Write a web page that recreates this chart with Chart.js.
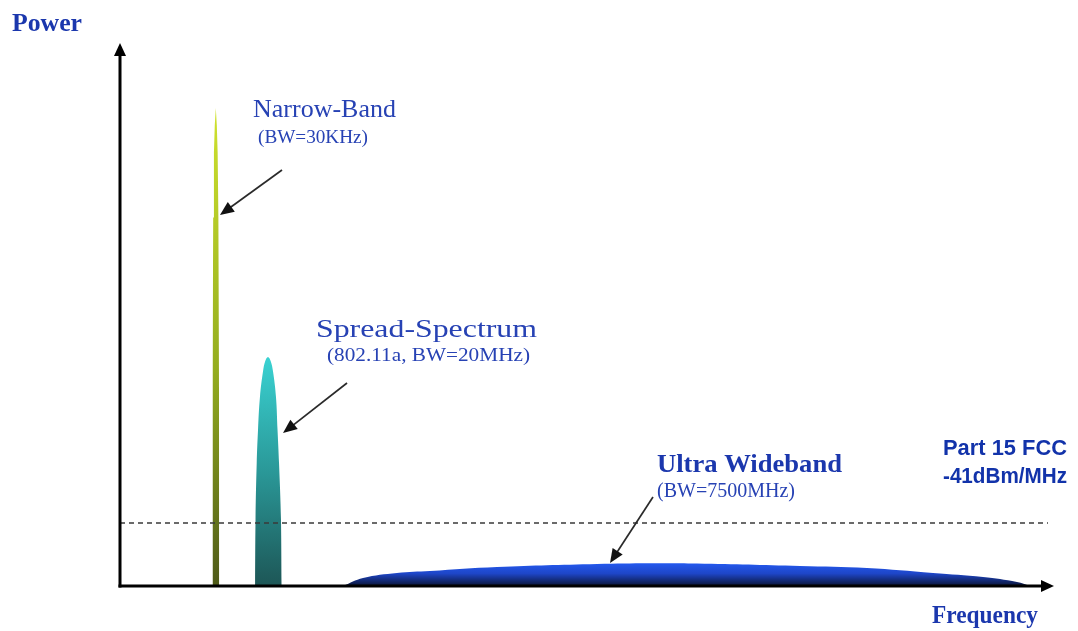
<!DOCTYPE html>
<html>
<head>
<meta charset="utf-8">
<script src="https://cdn.jsdelivr.net/npm/chart.js@4.4.1/dist/chart.umd.min.js"></script>
<style>
html,body{margin:0;padding:0;background:#fff;}
#wrap{width:1078px;height:631px;position:relative;}
</style>
</head>
<body>
<div id="wrap"><canvas id="c" width="1078" height="631"></canvas></div>
<script>
// ---- Data (arbitrary frequency units 0-100, power units 0-100) ----
const narrowFreq  = [9.93, 9.96, 10.02, 10.1, 10.19, 10.3, 10.41, 10.5, 10.58, 10.64, 10.67];
const narrowPower = [0,    40,   68,    80,   85,    88.2, 85,    80,   68,    40,    0];

const spreadFreq  = [14.52, 14.57, 14.70, 14.84, 15.05, 15.38, 15.62, 15.91, 16.20, 16.45, 16.77, 16.94, 17.10, 17.31, 17.39];
const spreadPower = [0,     12.2,  22.7,  28.8,  34.9,  39.6,  41.5,  42.25, 41.5,  39.6,  34.9,  28.8,  22.7,  12.2,  0];

const uwbFreq  = [23.98, 26.13, 29.78, 33.33, 40.54, 51.29, 57.0, 62.04, 73.12, 80.32, 87.42, 92.80, 96.45, 97.85];
const uwbPower = [0,     1.48,  2.40,  2.77,  3.51,  4.06,  4.20, 4.15,  3.69,  3.32,  2.40,  1.66,  0.74,  0];

const fccFreq  = [0, 99.78];
const fccPower = [11.62, 11.62];

const labels = {
  power: "Power",
  freq: "Frequency",
  narrow: "Narrow-Band",
  narrowBw: "(BW=30KHz)",
  spread: "Spread-Spectrum",
  spreadBw: "(802.11a, BW=20MHz)",
  uwb: "Ultra Wideband",
  uwbBw: "(BW=7500MHz)",
  fcc1: "Part 15 FCC",
  fcc2: "-41dBm/MHz"
};

const zip = (xs, ys) => xs.map((x, i) => ({x, y: ys[i]}));

function vGrad(stops, topVal) {
  return function(context) {
    const chart = context.chart;
    const {ctx, chartArea, scales} = chart;
    if (!chartArea) return stops[0][1];
    const y0 = scales.y.getPixelForValue(topVal);
    const y1 = scales.y.getPixelForValue(0);
    const g = ctx.createLinearGradient(0, y0, 0, y1);
    stops.forEach(s => g.addColorStop(s[0], s[1]));
    return g;
  };
}

const BLUE = '#2742b4';
const BLUE_B = '#1b37ad';
const BLUE_S = '#1233aa';

// Arrow annotations expressed in data units
const arrows = [
  {from: [17.42, 76.75], to: [10.75, 68.45]},
  {from: [24.41, 37.45], to: [17.53, 28.23]},
  {from: [57.31, 16.42], to: [52.69, 4.24]}
];

function drawText(c, t, x, y, font, color, w) {
  c.font = font;
  const m = c.measureText(t).width;
  c.save();
  c.fillStyle = color;
  c.textBaseline = 'alphabetic';
  c.textAlign = 'left';
  c.translate(x, y);
  c.scale(w / m, 1);
  c.fillText(t, 0, 0);
  c.restore();
}

function arrowHead(c, x0, y0, x1, y1, len, half) {
  const a = Math.atan2(y1 - y0, x1 - x0);
  c.beginPath();
  c.moveTo(x1, y1);
  c.lineTo(x1 - len * Math.cos(a) + half * Math.sin(a), y1 - len * Math.sin(a) - half * Math.cos(a));
  c.lineTo(x1 - len * Math.cos(a) - half * Math.sin(a), y1 - len * Math.sin(a) + half * Math.cos(a));
  c.closePath();
  c.fill();
}

const overlay = {
  id: 'overlay',
  afterDatasetsDraw(chart) {
    const c = chart.ctx;
    const xs = chart.scales.x, ys = chart.scales.y;
    const X = v => xs.getPixelForValue(v), Y = v => ys.getPixelForValue(v);
    c.save();
    // axes
    c.strokeStyle = '#000';
    c.fillStyle = '#000';
    c.lineWidth = 3;
    const ox = X(0), oy = Y(0);
    c.beginPath(); c.moveTo(ox, oy + 1.5); c.lineTo(ox, Y(100) + 10); c.stroke();
    arrowHead(c, ox, oy, ox, Y(100) - 1, 13, 6);
    c.beginPath(); c.moveTo(ox - 1.5, oy); c.lineTo(X(100) - 6, oy); c.stroke();
    arrowHead(c, ox, oy, X(100) + 4, oy, 13, 6);

    // annotation arrows
    c.strokeStyle = '#2a2a2a';
    c.fillStyle = '#111';
    c.lineWidth = 1.7;
    arrows.forEach(a => {
      const x0 = X(a.from[0]), y0 = Y(a.from[1]), x1 = X(a.to[0]), y1 = Y(a.to[1]);
      const ang = Math.atan2(y1 - y0, x1 - x0);
      c.beginPath(); c.moveTo(x0, y0); c.lineTo(x1 - 8 * Math.cos(ang), y1 - 8 * Math.sin(ang)); c.stroke();
      arrowHead(c, x0, y0, x1, y1, 14, 6);
    });
    c.restore();

    // texts
    const serif = '"Liberation Serif", "Times New Roman", serif';
    const sans = '"Liberation Sans", Arial, sans-serif';
    drawText(c, labels.power, 12, 31, 'bold 25px ' + serif, BLUE_B, 70);
    drawText(c, labels.narrow, 253, 117, '25px ' + serif, BLUE, 143);
    drawText(c, labels.narrowBw, 258, 143, '19px ' + serif, BLUE, 110);
    drawText(c, labels.spread, 316, 337, '26px ' + serif, BLUE, 221);
    drawText(c, labels.spreadBw, 327, 361, '19px ' + serif, BLUE, 203);
    drawText(c, labels.uwb, 657, 472, 'bold 25px ' + serif, BLUE_B, 185);
    drawText(c, labels.uwbBw, 657, 497, '20px ' + serif, BLUE, 138);
    drawText(c, labels.fcc1, 943, 455, 'bold 22px ' + sans, BLUE_S, 124);
    drawText(c, labels.fcc2, 943, 483, 'bold 22px ' + sans, BLUE_S, 124);
    drawText(c, labels.freq, 932, 623, 'bold 25px ' + serif, BLUE_B, 106);
  }
};

new Chart(document.getElementById('c'), {
  type: 'line',
  data: {
    datasets: [
      {
        label: 'Part 15 FCC limit',
        data: zip(fccFreq, fccPower),
        borderColor: '#3a3a3a',
        borderWidth: 1.3,
        borderDash: [5, 4],
        pointRadius: 0,
        fill: false,
        tension: 0,
        order: 0
      },
      {
        label: 'Narrow-Band',
        data: zip(narrowFreq, narrowPower),
        backgroundColor: vGrad([[0, '#cfe22e'], [0.55, '#93ac1e'], [1, '#4e5a18']], 88.2),
        borderWidth: 0,
        pointRadius: 0,
        fill: 'origin',
        tension: 0,
        order: 1
      },
      {
        label: 'Spread-Spectrum',
        data: zip(spreadFreq, spreadPower),
        backgroundColor: vGrad([[0, '#3ad2d2'], [0.5, '#2a9898'], [1, '#1d5656']], 42.25),
        borderWidth: 0,
        pointRadius: 0,
        fill: 'origin',
        tension: 0.4,
        order: 1
      },
      {
        label: 'Ultra Wideband',
        data: zip(uwbFreq, uwbPower),
        backgroundColor: vGrad([[0, '#2459ee'], [0.45, '#1e46c8'], [1, '#0a1435']], 4.2),
        borderWidth: 0,
        pointRadius: 0,
        fill: 'origin',
        tension: 0.4,
        order: 1
      }
    ]
  },
  options: {
    responsive: false,
    animation: false,
    layout: {padding: {left: 120, right: 28, top: 44, bottom: 45}},
    plugins: {legend: {display: false}, tooltip: {enabled: false}},
    scales: {
      x: {type: 'linear', min: 0, max: 100, display: false},
      y: {type: 'linear', min: 0, max: 100, display: false}
    }
  },
  plugins: [overlay]
});
</script>
</body>
</html>
